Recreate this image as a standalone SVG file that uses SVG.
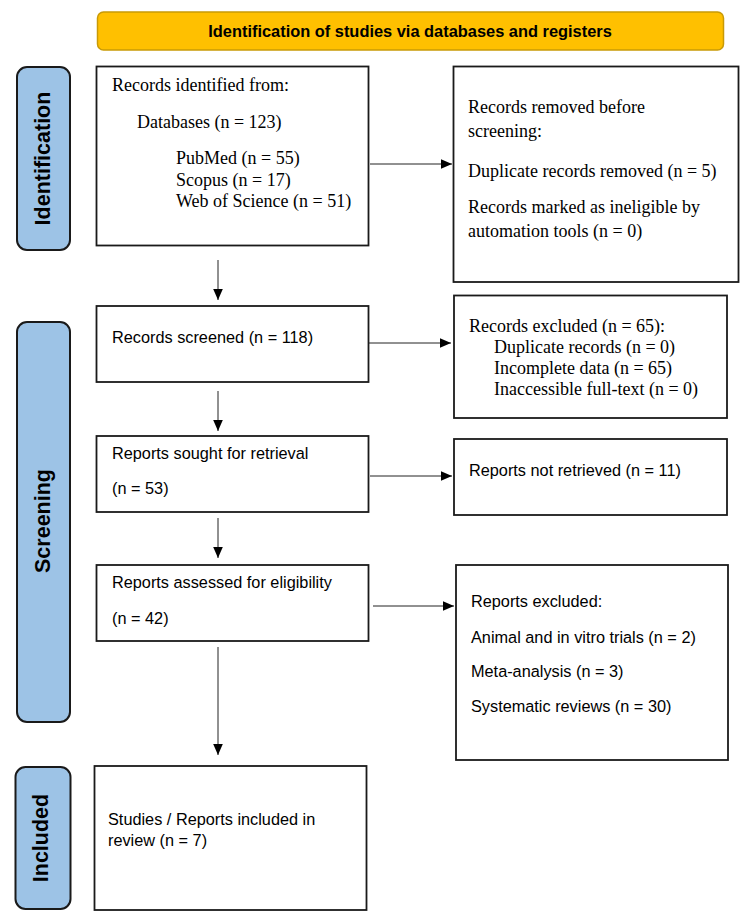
<svg xmlns="http://www.w3.org/2000/svg" width="750" height="923" viewBox="0 0 750 923">
<style>
.box{fill:#fff;stroke:#1a1a1a;stroke-width:1.8}
.phase{fill:#9dc3e6;stroke:#1a1a1a;stroke-width:2}
.ptxt{font-family:"Liberation Sans",Arial,sans-serif;font-weight:bold;font-size:21.5px;fill:#000}
.ser{font-family:"Liberation Serif","Times New Roman",serif;font-size:18px;fill:#000}
.san{font-family:"Liberation Sans",Arial,sans-serif;font-size:16.3px;fill:#000}
.con{stroke:#222;stroke-width:1;fill:none;marker-end:url(#ah)}
</style>
<defs>
<marker id="ah" markerUnits="userSpaceOnUse" markerWidth="13" markerHeight="11" refX="11.5" refY="5" orient="auto">
<path d="M0,0 L11.5,5 L0,10 z" fill="#000"/>
</marker>
</defs>
<rect width="750" height="923" fill="#fff"/>
<g id="header">
<rect x="97.5" y="12" width="626" height="38" rx="6" fill="#ffc000" stroke="#c99a06" stroke-width="1.5"/>
<text x="410" y="37" text-anchor="middle" font-family="'Liberation Sans',Arial,sans-serif" font-weight="bold" font-size="16.4">Identification of studies via databases and registers</text>
</g>
<g id="phase-identification">
<rect class="phase" x="17" y="67" width="53" height="183" rx="10"/>
<text class="ptxt" transform="translate(50,158.5) rotate(-90)" text-anchor="middle">Identification</text>
</g>
<g id="phase-screening">
<rect class="phase" x="17" y="322" width="53" height="400" rx="10"/>
<text class="ptxt" transform="translate(50,521) rotate(-90)" text-anchor="middle">Screening</text>
</g>
<g id="phase-included">
<rect class="phase" x="15.5" y="767" width="55" height="142" rx="10"/>
<text class="ptxt" transform="translate(48,838) rotate(-90)" text-anchor="middle">Included</text>
</g>
<g id="records-identified">
<rect class="box" x="96.5" y="66.5" width="272" height="179"/>
<text class="ser" x="112" y="91">Records identified from:</text>
<text class="ser" x="137" y="128">Databases (n = 123)</text>
<text class="ser" x="176" y="164">PubMed (n = 55)</text>
<text class="ser" x="176" y="185.5">Scopus (n = 17)</text>
<text class="ser" x="176" y="207">Web of Science (n = 51)</text>
</g>
<g id="records-removed">
<rect class="box" x="453.5" y="66.5" width="285" height="215.5"/>
<text class="ser" x="468" y="113" font-size="20">Records removed before</text>
<text class="ser" x="468" y="137" font-size="20">screening:</text>
<text class="ser" x="468" y="177">Duplicate records removed (n = 5)</text>
<text class="ser" x="468" y="213">Records marked as ineligible by</text>
<text class="ser" x="468" y="237">automation tools (n = 0)</text>
</g>
<g id="records-screened">
<rect class="box" x="96.5" y="306" width="272" height="76"/>
<text class="san" x="112" y="343">Records screened (n = 118)</text>
</g>
<g id="records-excluded">
<rect class="box" x="454" y="295.5" width="273" height="122.5"/>
<text class="ser" x="469" y="332">Records excluded (n = 65):</text>
<text class="ser" x="494" y="353">Duplicate records (n = 0)</text>
<text class="ser" x="494" y="374">Incomplete data (n = 65)</text>
<text class="ser" x="494" y="394.5">Inaccessible full-text (n = 0)</text>
</g>
<g id="reports-sought">
<rect class="box" x="96.5" y="436" width="272" height="76"/>
<text class="san" x="112" y="459">Reports sought for retrieval</text>
<text class="san" x="112" y="494">(n = 53)</text>
</g>
<g id="reports-not-retrieved">
<rect class="box" x="454" y="439" width="273" height="76"/>
<text class="san" x="469" y="476">Reports not retrieved (n = 11)</text>
</g>
<g id="reports-assessed">
<rect class="box" x="96.5" y="565" width="272" height="76"/>
<text class="san" x="112" y="588">Reports assessed for eligibility</text>
<text class="san" x="112" y="624">(n = 42)</text>
</g>
<g id="reports-excluded">
<rect class="box" x="456" y="565" width="272" height="195"/>
<text class="san" x="471" y="607">Reports excluded:</text>
<text class="san" x="471" y="643">Animal and in vitro trials (n = 2)</text>
<text class="san" x="471" y="677">Meta-analysis (n = 3)</text>
<text class="san" x="471" y="712">Systematic reviews (n = 30)</text>
</g>
<g id="studies-included">
<rect class="box" x="94.5" y="766" width="272" height="144"/>
<text class="san" x="108" y="825">Studies / Reports included in</text>
<text class="san" x="108" y="846">review (n = 7)</text>
</g>
<g id="connectors">
<line class="con" x1="370" y1="164" x2="452" y2="164"/>
<line class="con" x1="218" y1="260" x2="218" y2="300"/>
<line class="con" x1="369" y1="343" x2="451" y2="343"/>
<line class="con" x1="218" y1="391" x2="218" y2="431"/>
<line class="con" x1="370" y1="476" x2="452" y2="476"/>
<line class="con" x1="218" y1="518" x2="218" y2="558"/>
<line class="con" x1="373" y1="606" x2="454" y2="606"/>
<line class="con" x1="218" y1="647" x2="218" y2="755"/>
</g>
</svg>
